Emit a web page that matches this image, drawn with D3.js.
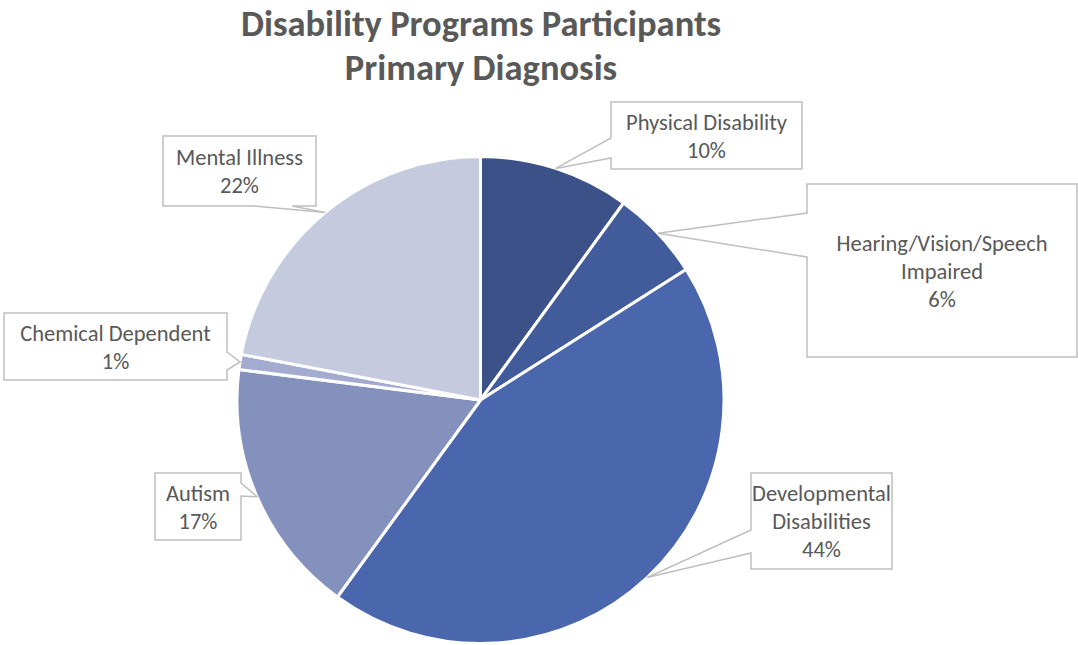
<!DOCTYPE html>
<html>
<head>
<meta charset="utf-8">
<script src="https://cdn.jsdelivr.net/npm/d3@7"></script>
<style>
  html, body { margin: 0; padding: 0; background: #ffffff; }
  svg { display: block; }
  text { font-family: Carlito, Calibri, Lato, "Open Sans", sans-serif; fill: #595959; }
</style>
</head>
<body>
<svg id="chart" width="1078" height="645"></svg>
<script>
// Chart data
const categories = [
  "Physical Disability",
  "Hearing/Vision/Speech Impaired",
  "Developmental Disabilities",
  "Autism",
  "Chemical Dependent",
  "Mental Illness"
];
const shares = [10, 6, 44, 17, 1, 22];
const labelLines = [
  ["Physical Disability"],
  ["Hearing/Vision/Speech", "Impaired"],
  ["Developmental", "Disabilities"],
  ["Autism"],
  ["Chemical Dependent"],
  ["Mental Illness"]
];
const titleLines = ["Disability Programs Participants", "Primary Diagnosis"];

// Styling and layout
const colors = ["#3b5187", "#425c9b", "#4a67ae", "#8591bd", "#a3acd0", "#c5cadf"];
// Callout boxes: [x, y, width, height, side the pointer leaves from, pointer base start, pointer base end]
const callouts = [
  [611, 102, 191, 67, "left", 138, 158],
  [807, 184, 270, 173, "left", 213, 257],
  [751, 473, 141, 96, "left", 530, 553],
  [155, 473, 86, 67, "right", 483, 496],
  [4, 313, 223, 67, "right", 352, 370],
  [163, 136, 153, 70, "bottom", 253, 292]
];

const svg = d3.select("#chart");
const cx = 480.5, cy = 400, radius = 243.5;

// Title
svg.append("g").selectAll("text")
  .data(titleLines)
  .join("text")
  .attr("x", 481)
  .attr("y", (d, i) => 36 + i * 44)
  .attr("text-anchor", "middle")
  .attr("font-weight", "bold")
  .attr("font-size", 36.5)
  .text(d => d);

// Pie, starting at 12 o'clock and running clockwise in data order
const pie = d3.pie().sort(null).value(d => d);
const arcs = pie(shares);
const arc = d3.arc().innerRadius(0).outerRadius(radius);
const edge = d3.arc().innerRadius(radius).outerRadius(radius);

const g = svg.append("g").attr("transform", `translate(${cx},${cy})`);
g.selectAll("path")
  .data(arcs)
  .join("path")
  .attr("d", arc)
  .attr("fill", (d, i) => colors[i])
  .attr("stroke", "#ffffff")
  .attr("stroke-width", 3)
  .attr("stroke-linejoin", "round");

// Callouts pointing at the middle of each slice's rim
const fmt = d => d + "%";
const labels = svg.append("g");
arcs.forEach((a, i) => {
  const [bx, by, bw, bh, side, p1, p2] = callouts[i];
  const c = edge.centroid(a);
  const tx = cx + c[0], ty = cy + c[1];
  let d;
  if (side === "left") {
    d = `M${bx},${by}H${bx + bw}V${by + bh}H${bx}V${p2}L${tx},${ty}L${bx},${p1}Z`;
  } else if (side === "right") {
    d = `M${bx},${by}H${bx + bw}V${p1}L${tx},${ty}L${bx + bw},${p2}V${by + bh}H${bx}Z`;
  } else {
    d = `M${bx},${by}H${bx + bw}V${by + bh}H${p2}L${tx},${ty}L${p1},${by + bh}H${bx}Z`;
  }
  labels.append("path")
    .attr("d", d)
    .attr("fill", "#ffffff")
    .attr("stroke", "#bfbfbf")
    .attr("stroke-width", 1.5)
    .attr("stroke-linejoin", "miter");

  const lines = labelLines[i].concat([fmt(shares[i])]);
  const lh = 28;
  const midY = by + bh / 2;
  labels.append("g").selectAll("text")
    .data(lines)
    .join("text")
    .attr("x", bx + bw / 2)
    .attr("y", (d, k) => midY + (k - (lines.length - 1) / 2) * lh + 8)
    .attr("text-anchor", "middle")
    .attr("font-size", 22.5)
    .text(d => d);
});
</script>
</body>
</html>
